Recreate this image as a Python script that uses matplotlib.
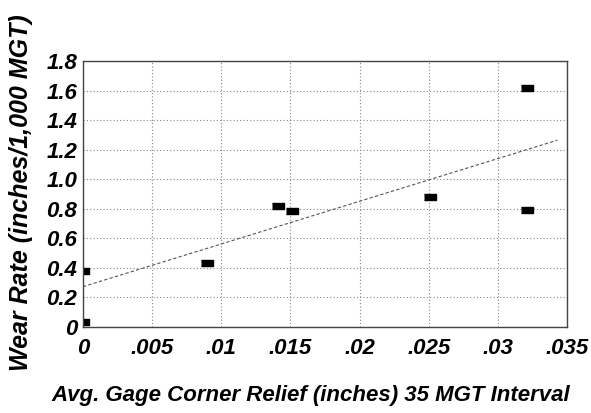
import numpy as np
import matplotlib.pyplot as plt

# gage corner relief (in) vs wear rate (in / 1,000 MGT)
relief = [0.0, 0.0, 0.0090, 0.0141, 0.0151, 0.0251, 0.0321, 0.0321]
wear = [0.38, 0.035, 0.43, 0.82, 0.785, 0.88, 1.62, 0.79]

# trend line as drawn in the original
trend_intercept = 0.273
trend_slope = 28.9
trend_end = 0.0343

xticks = [0, 0.005, 0.01, 0.015, 0.02, 0.025, 0.03, 0.035]
xtick_labels = ['0', '.005', '.01', '.015', '.02', '.025', '.03', '.035']
yticks = [0, 0.2, 0.4, 0.6, 0.8, 1.0, 1.2, 1.4, 1.6, 1.8]
ytick_labels = ['0', '0.2', '0.4', '0.6', '0.8', '1.0', '1.2', '1.4', '1.6', '1.8']

plt.rcParams['font.family'] = ['Liberation Sans', 'DejaVu Sans']
font = dict(fontweight='bold', fontstyle='italic')

fig = plt.figure(figsize=(5.91, 4.13), dpi=100)
ax = fig.add_axes([0.1404, 0.2082, 0.819, 0.644])

ax.grid(True, color='#888888', linestyle=(0, (1, 2)), linewidth=0.8)
ax.set_axisbelow(True)

tx = np.array([0, trend_end])
ax.plot(tx, trend_intercept + trend_slope * tx, color='#555555',
        linestyle=(0, (3, 2)), linewidth=0.8)

rect = [(-1, -0.55), (1, -0.55), (1, 0.55), (-1, 0.55)]
ax.plot(relief, wear, linestyle='none', marker=rect, markersize=8,
        color='black')

ax.set_xlim(0, 0.035)
ax.set_ylim(0, 1.8)
ax.set_xticks(xticks)
ax.set_xticklabels(xtick_labels, fontsize=16, **font)
ax.set_yticks(yticks)
ax.set_yticklabels(ytick_labels, fontsize=16, **font)
ax.tick_params(axis='both', length=0)
ax.tick_params(axis='x', pad=8)
ax.tick_params(axis='y', pad=4)
for s in ax.spines.values():
    s.set_color('#444444')
    s.set_linewidth(1.0)

fig.text(0.525, 1 - 396 / 413, 'Avg. Gage Corner Relief (inches) 35 MGT Interval',
         ha='center', va='center', fontsize=16, **font)
fig.text(21 / 591, 1 - 193 / 413, 'Wear Rate (inches/1,000 MGT)',
         ha='center', va='center', rotation=90, fontsize=18, **font)

fig.savefig('out.png', dpi=100)
